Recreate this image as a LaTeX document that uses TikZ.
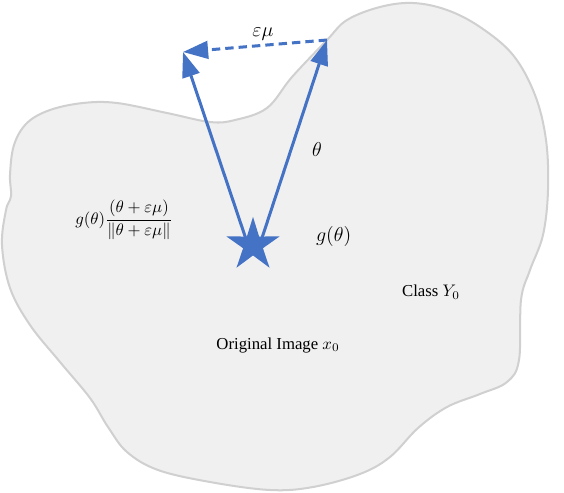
\documentclass[tikz,border=0pt]{standalone}
\usepackage{amsmath,amssymb}
\usepackage{fontspec}
\setmainfont{Liberation Serif}
\usetikzlibrary{positioning, arrows.meta, shapes.geometric}
\definecolor{Accent}{HTML}{4472C4}
\definecolor{RegionFill}{HTML}{F0F0F0}
\definecolor{RegionLine}{HTML}{D0D0D0}

\begin{document}
\begin{tikzpicture}[
    x=0.021cm, y=-0.021cm,
    region/.style={draw=RegionLine, fill=RegionFill, line width=1.2pt},
    vec/.style={-{Triangle[length=15pt, width=10.5pt]}, line width=1.8pt, color=Accent},
    origin/.style={star, star points=5, star point ratio=2.7, fill=Accent, draw=none, minimum size=1.18cm, inner sep=0pt},
    every node/.style={font=\normalsize}
]
\useasboundingbox (0,0) rectangle (564,492);

% class region
\draw[region] plot[smooth cycle, tension=0.6] coordinates {
    (327,40) (347,20) (380,7) (413,3) (447,10) (480,27) (513,55) (535,95)
    (546,140) (548,190) (543,235) (530,270) (521,300) (519,360) (507,382)
    (480,394) (447,407) (418,428) (390,457) (360,474) (313,487) (270,490)
    (210,482) (158,470) (127,452) (108,427) (90,398) (60,362) (30,325)
    (10,288) (2,245) (6,210) (11,196) (10,175) (14,145) (27,123)
    (50,110) (83,103) (117,103) (167,113) (210,122) (235,120) (267,108) (292,77)};

\coordinate (tipA) at (183,52);
\coordinate (tipB) at (327,40);
\node[origin] (origin) at (253,245) {};

\draw[vec] ([xshift=-3pt]origin.center) -- (tipA);
\draw[vec] ([xshift=4pt]origin.center) -- (tipB);
\draw[vec, dash pattern=on 5pt off 3pt] (tipB) -- (tipA);

\node[font=\large] (eps) at (263,34) {$\varepsilon\mu$};
\node[font=\large] (theta) at (317,150) {$\theta$};
\node[font=\large, right=1.2cm of origin.center, anchor=west, yshift=5pt] (gval) {$g(\theta)$};
\node (proj) at (124,220) {$g(\theta)\dfrac{(\theta+\varepsilon\mu)}{\left\|\theta+\varepsilon\mu\right\|}$};
\node (cls) at (431,292) {Class $Y_0$};
\node (orig) at (278,345) {Original Image $x_0$};

\end{tikzpicture}
\end{document}
